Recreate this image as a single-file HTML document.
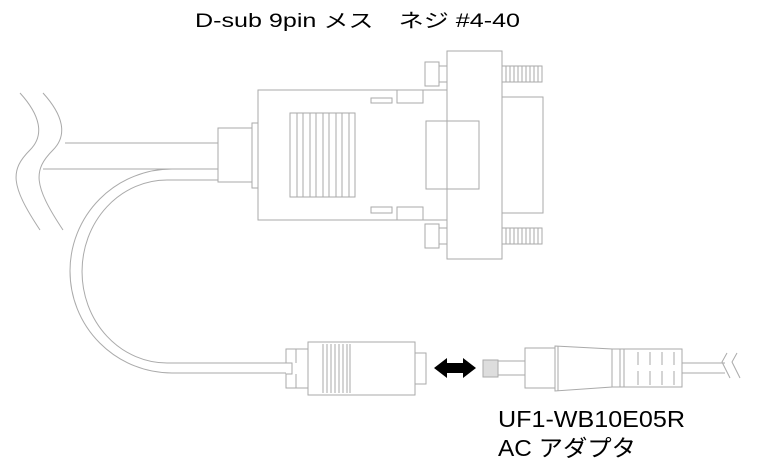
<!DOCTYPE html>
<html><head><meta charset="utf-8"><style>html,body{margin:0;padding:0;background:#fff;}svg{display:block}</style></head>
<body>
<svg width="773" height="471" viewBox="0 0 773 471" xmlns="http://www.w3.org/2000/svg">
<g fill="none" stroke="#aaa" stroke-width="1">
<!-- cables -->
<path d="M65 143 H218"/>
<path d="M43 169 H218"/>
<path d="M218 180 H167 A85 91.5 0 0 0 167 363 H286"/>
<path d="M172 169 A102 102 0 0 0 172 373 H286"/>
<path d="M20 93 C40 115 45 135 30 150 C10 170 10 185 40 230"/>
<path d="M43 93 C63 115 68 135 53 150 C33 170 33 185 63 230"/>
<!-- connector -->
<rect x="218" y="128" width="34" height="54"/>
<rect x="252" y="123" width="6" height="65"/>
<rect x="258" y="90" width="189" height="130"/>
<rect x="447" y="51" width="55" height="208"/>
<rect x="290" y="113" width="65" height="84"/>
<path d="M297 113V197M303 113V197M310 113V197M316 113V197M323 113V197M329 113V197M336 113V197M342 113V197M349 113V197"/>
<rect x="371" y="98" width="21" height="5"/>
<rect x="397" y="90" width="26" height="13"/>
<rect x="371" y="207" width="21" height="6"/>
<rect x="397" y="207" width="26" height="13"/>
<rect x="426" y="121" width="53" height="68"/>
<rect x="502" y="97" width="41" height="116"/>
<rect x="425" y="62" width="14" height="24"/>
<rect x="439" y="66" width="8" height="16"/>
<rect x="425" y="224" width="14" height="24"/>
<rect x="439" y="228" width="8" height="16"/>
<rect x="502" y="66" width="40" height="16"/>
<rect x="502" y="228" width="40" height="16"/>
<path d="M506 66V82M510 66V82M514 66V82M518 66V82M522 66V82M526 66V82M530 66V82M534 66V82M538 66V82"/>
<path d="M506 228V244M510 228V244M514 228V244M518 228V244M522 228V244M526 228V244M530 228V244M534 228V244M538 228V244"/>
<!-- female plug -->
<path d="M286 349 H308 V388 H286 V374 H292 V363 H286 Z"/>
<path d="M296 349V363M296 374V388"/>
<rect x="308" y="342" width="107" height="53"/>
<path d="M323 344V393M327 344V393M331 344V393M335 344V393M339 344V393M343 344V393M347 344V393M350 344V393"/>
<rect x="415" y="353" width="11" height="31"/>
<!-- male plug -->
<rect x="483" y="360" width="15" height="17" fill="#ddd"/>
<rect x="498" y="361" width="27" height="14"/>
<rect x="525" y="348" width="30" height="40"/>
<path d="M555 346 L612 349 V387 L555 391 Z"/>
<path d="M558 346V391"/>
<path d="M612 349 H682 V387 H612"/>
<path d="M620 349V387M624 349V387M638 352V365M638 371V385M650 352V365M650 371V385M662 352V365M662 371V385M674 352V365M674 371V385"/>
<path d="M682 363 H725 M682 373 H725"/>
<path d="M727 353 L722 362 L730 378 M737 353 L732 362 L740 378"/>
</g>
<!-- arrow -->
<path d="M434 368 L447 358 V363 H463 V358 L476 368 L463 378 V373 H447 V378 Z" fill="#000"/>
<g font-family="Liberation Sans, Noto Sans CJK JP, sans-serif" fill="#000">
<text x="195" y="27" font-size="19" textLength="325" lengthAdjust="spacingAndGlyphs">D-sub 9pin メス　ネジ #4-40</text>
<text x="498" y="427" font-size="23" textLength="187" lengthAdjust="spacingAndGlyphs">UF1-WB10E05R</text>
<text x="498" y="456" font-size="23" textLength="138" lengthAdjust="spacingAndGlyphs">AC アダプタ</text>
</g>
</svg>
</body></html>
